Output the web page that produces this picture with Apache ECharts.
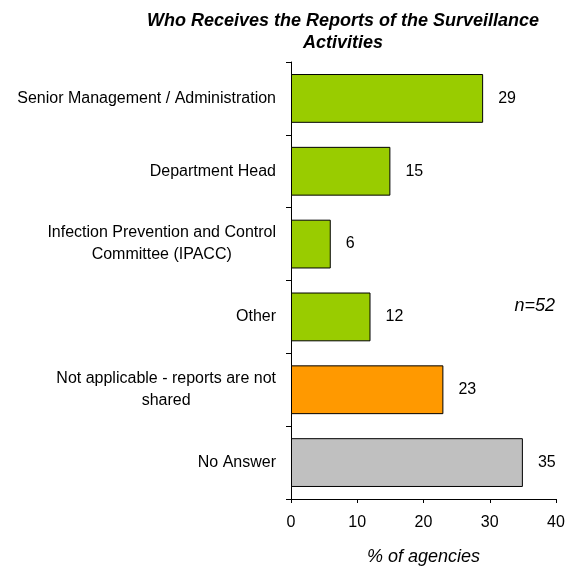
<!DOCTYPE html>
<html><head><meta charset="utf-8">
<script src="https://cdn.jsdelivr.net/npm/echarts@6/dist/echarts.min.js"></script>
<style>html,body{margin:0;padding:0;background:#fff}#c{width:567px;height:570px}</style>
</head><body><div id="c"></div>
<script>
const categories = [
  'Senior Management / Administration',
  'Department Head',
  'Infection Prevention and Control\nCommittee (IPACC)',
  'Other',
  'Not applicable - reports are not\nshared',
  'No Answer'
];
const values = [29, 15, 6, 12, 23, 35];
const barColors = ['#99CC00', '#99CC00', '#99CC00', '#99CC00', '#FF9900', '#C0C0C0'];
const xTicks = [0, 10, 20, 30, 40];

const FONT = '"Liberation Sans", Arial, sans-serif';
const chart = echarts.init(document.getElementById('c'), null, {renderer: 'canvas'});
chart.setOption({
  animation: false,
  backgroundColor: '#fff',
  title: {
    text: 'Who Receives the Reports of the Surveillance\nActivities',
    left: 338, top: 5, textAlign: 'center',
    textStyle: {fontFamily: FONT, fontSize: 18, fontWeight: 'bold', fontStyle: 'italic', color: '#000', lineHeight: 22}
  },
  grid: {left: 291, right: 11, top: 62, bottom: 71, containLabel: false, outerBoundsMode: 'none'},
  xAxis: {
    type: 'value', min: xTicks[0], max: xTicks[xTicks.length - 1], interval: 10,
    name: '% of agencies', nameLocation: 'middle', nameGap: 49,
    nameTextStyle: {fontFamily: FONT, fontSize: 18, fontStyle: 'italic', color: '#000'},
    axisLine: {show: true, lineStyle: {color: '#000', width: 1}},
    axisTick: {show: true, length: 4, lineStyle: {color: '#000'}},
    axisLabel: {fontFamily: FONT, fontSize: 16, color: '#000', margin: 16},
    splitLine: {show: false}
  },
  yAxis: {
    type: 'category', data: categories, inverse: true,
    axisLine: {show: true, lineStyle: {color: '#000', width: 1}},
    axisTick: {show: true, length: 5, lineStyle: {color: '#000'}},
    axisLabel: {
      fontFamily: FONT, fontSize: 16, color: '#000', margin: 15, lineHeight: 22,
      formatter: v => '{a|' + v + '}',
      rich: {a: {align: 'center', fontFamily: FONT, fontSize: 16, color: '#000', lineHeight: 22}}
    }
  },
  series: [{
    type: 'bar',
    data: values.map((v, i) => ({value: v, itemStyle: {color: barColors[i]}})),
    barCategoryGap: '33%',
    itemStyle: {borderColor: '#000', borderWidth: 1},
    label: {show: true, position: 'right', distance: 15, fontFamily: FONT, fontSize: 16, color: '#000'}
  }],
  graphic: [{
    type: 'text', right: 12, top: 297,
    style: {text: 'n=52', fontFamily: FONT, fontSize: 18, fontStyle: 'italic', fill: '#000'}
  }]
});
</script></body></html>
